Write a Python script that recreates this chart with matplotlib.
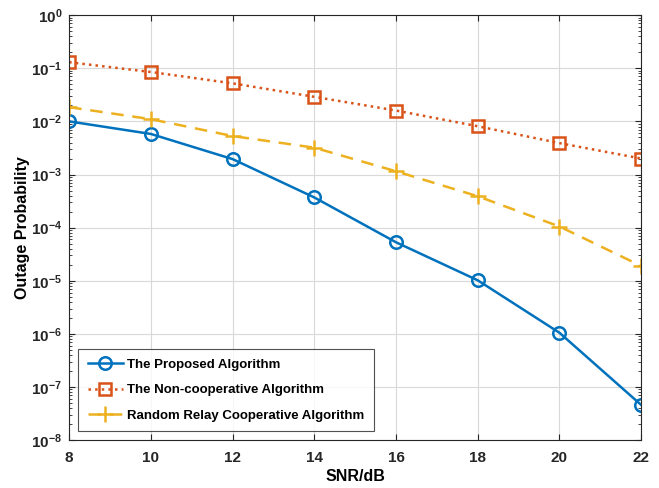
import numpy as np
import matplotlib.pyplot as plt
from matplotlib.ticker import LogLocator, NullFormatter

plt.rcParams['font.family'] = ['Liberation Sans', 'DejaVu Sans']
plt.rcParams['font.weight'] = 'bold'

snr = [8, 10, 12, 14, 16, 18, 20, 22]
proposed = [1.0e-2, 5.8e-3, 1.95e-3, 3.7e-4, 5.3e-5, 1.02e-5, 1.05e-6, 4.6e-8]
noncoop = [0.13, 0.085, 0.052, 0.029, 0.016, 0.0081, 0.0039, 0.002]
random_relay = [0.0185, 0.011, 0.0053, 0.0032, 0.00115, 3.9e-4, 1.05e-4, 1.9e-5]

fig = plt.figure(figsize=(6.59, 4.88), dpi=100)
ax = fig.add_axes([0.105, 0.098, 0.868, 0.871])

ax.semilogy(snr, proposed, '-o', color='#0072BD', lw=1.8, ms=9, mfc='none', mew=1.8,
            label='The Proposed Algorithm')
ax.semilogy(snr, noncoop, ':s', color='#D95319', lw=1.8, ms=8, mfc='none', mew=1.8,
            label='The Non-cooperative Algorithm')
ax.semilogy(snr, random_relay, '--+', color='#EDB120', lw=1.8, ms=12, mew=1.8,
            dashes=(5, 3.5), label='Random Relay Cooperative Algorithm')

ax.set_xlim(8, 22)
ax.set_ylim(1e-8, 1e0)
ax.set_xticks(range(8, 23, 2))
ax.yaxis.set_major_locator(LogLocator(base=10, numticks=20))
ax.yaxis.set_minor_locator(LogLocator(base=10, subs=np.arange(2, 10), numticks=20))
ax.yaxis.set_minor_formatter(NullFormatter())

ax.grid(True, which='major', color='#d9d9d9', lw=0.8)
ax.tick_params(which='both', direction='in', top=True, right=True, labelsize=11,
               colors='#262626')
ax.tick_params(which='minor', length=2.5)
ax.tick_params(which='major', length=4)
ax.tick_params(axis='x', pad=8)
ax.tick_params(axis='y', pad=5)
for sp in ax.spines.values():
    sp.set_color('#262626')
    sp.set_linewidth(0.8)

ax.set_xlabel('SNR/dB', fontsize=11.5, fontweight='bold', labelpad=3)
ax.set_ylabel('Outage Probability', fontsize=11.5, fontweight='bold', labelpad=1)

leg = ax.legend(loc='lower left', prop={'weight': 'bold', 'size': 9.5},
                fancybox=False, edgecolor='#262626', borderaxespad=0.7,
                handlelength=2.7, handletextpad=0.3, labelspacing=1.0,
                borderpad=0.7)
leg.get_frame().set_linewidth(0.8)

fig.savefig('out.png', dpi=100)
